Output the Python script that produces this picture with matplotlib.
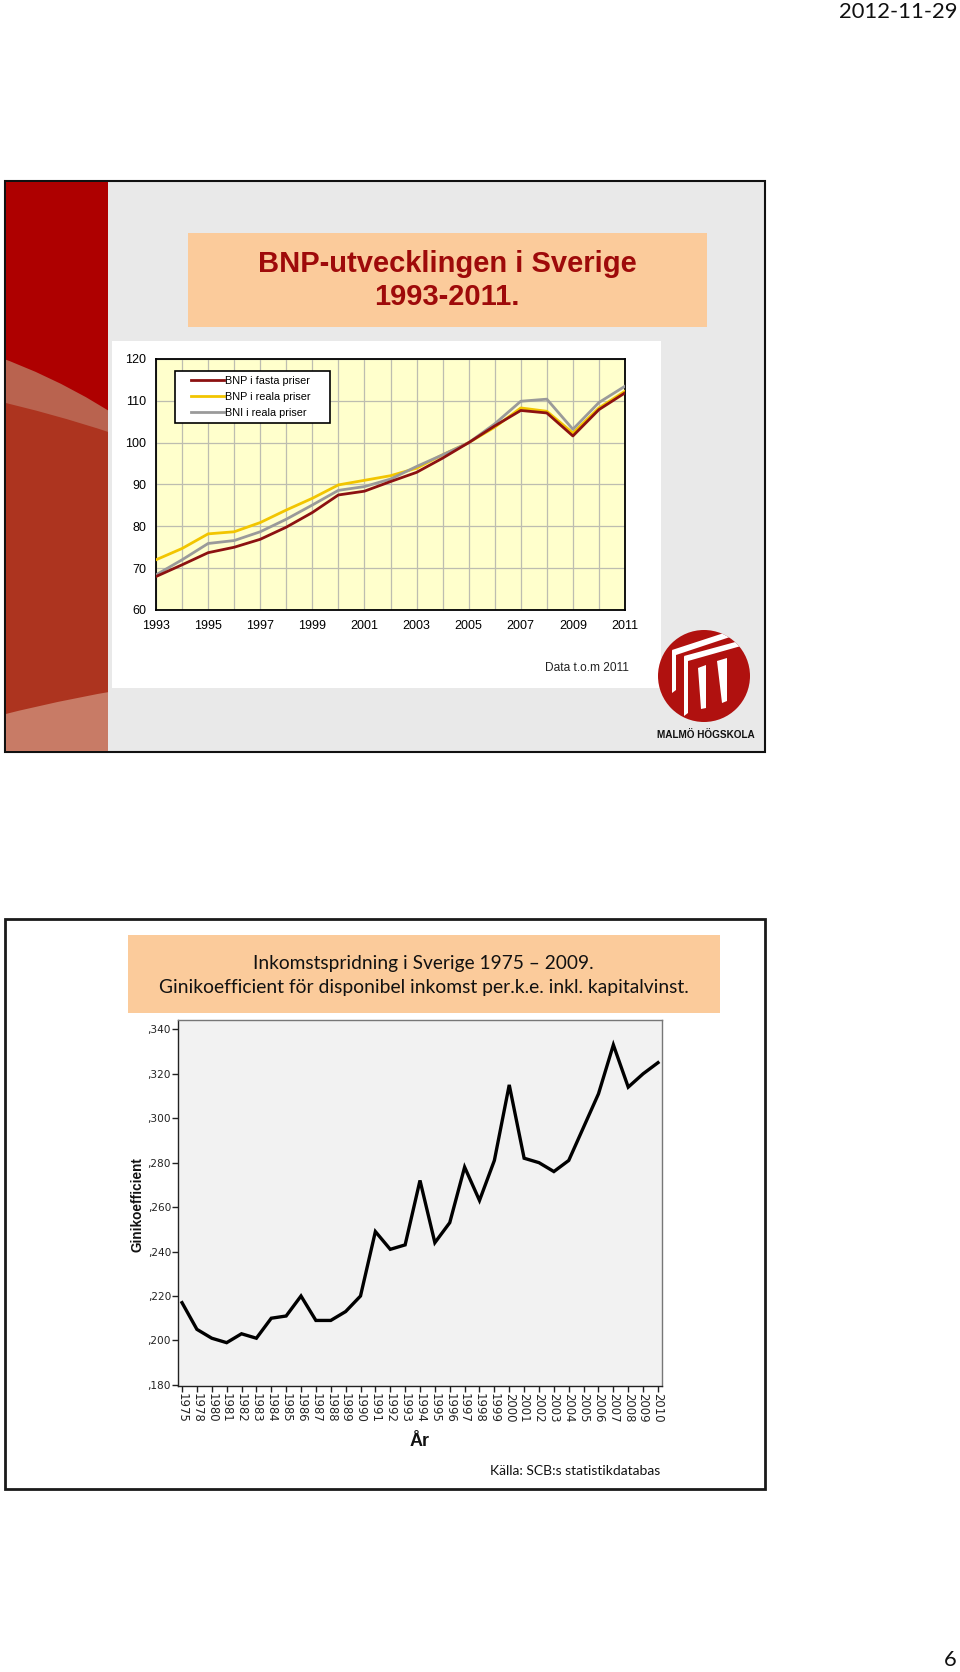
"""Two slides: BNP index 1993-2011 and Gini coefficient 1975-2010."""

import matplotlib
matplotlib.use("Agg")
import matplotlib.pyplot as plt
import matplotlib.ticker as mticker
from matplotlib.lines import Line2D
from matplotlib.legend_handler import HandlerLine2D
from matplotlib.patches import Rectangle, Circle, Polygon

W, H = 960, 1672

# --- data: BNP index (2005 = 100) ---
bnp_years = list(range(1993, 2012))
bnp_fasta = [68.0, 70.8, 73.7, 75.0, 76.9, 79.8, 83.3, 87.5, 88.4, 90.7,
             92.9, 96.3, 100.0, 104.0, 107.7, 107.1, 101.6, 107.9, 111.9]
bnp_reala = [72.0, 74.7, 78.2, 78.7, 80.9, 83.9, 86.7, 89.9, 91.0, 92.1,
             93.9, 97.1, 100.0, 103.7, 108.3, 107.5, 102.3, 108.3, 112.3]
bni_reala = [68.4, 72.0, 75.9, 76.6, 78.7, 81.7, 85.1, 88.6, 89.5, 91.3,
             94.3, 97.1, 100.0, 104.5, 109.9, 110.4, 103.2, 109.6, 113.5]
bnp_labels = ["BNP i fasta priser", "BNP i reala priser", "BNI i reala priser"]
bnp_colors = ["#8C1111", "#F2C500", "#9A9A9A"]
bnp_yticks = [60, 70, 80, 90, 100, 110, 120]

# --- data: Gini coefficient ---
gini_years = ["1975", "1978", "1980", "1981", "1982", "1983", "1984", "1985",
              "1986", "1987", "1988", "1989", "1990", "1991", "1992", "1993",
              "1994", "1995", "1996", "1997", "1998", "1999", "2000", "2001",
              "2002", "2003", "2004", "2005", "2006", "2007", "2008", "2009",
              "2010"]
gini = [0.217, 0.205, 0.201, 0.199, 0.203, 0.201, 0.210, 0.211, 0.220, 0.209,
        0.209, 0.213, 0.220, 0.249, 0.241, 0.243, 0.272, 0.244, 0.253, 0.278,
        0.263, 0.281, 0.315, 0.282, 0.280, 0.276, 0.281, 0.296, 0.311, 0.333,
        0.314, 0.320, 0.325]
gini_yticks = [0.18, 0.20, 0.22, 0.24, 0.26, 0.28, 0.30, 0.32, 0.34]

ARIAL = ["Liberation Sans", "DejaVu Sans"]
CALIBRI = ["Lato", "DejaVu Sans"]
PEACH = "#FBCB9B"


def box(x0, y0, x1, y1):
    """Pixel box (top-left origin) -> figure fraction rect."""
    return [x0 / W, 1 - y1 / H, (x1 - x0) / W, (y1 - y0) / H]


fig = plt.figure(figsize=(W / 100, H / 100), dpi=100)
fig.patch.set_facecolor("white")

bg = fig.add_axes([0, 0, 1, 1])
bg.set_xlim(0, W)
bg.set_ylim(H, 0)
bg.axis("off")

# page header / footer
bg.text(957, 12, "2012-11-29", ha="right", va="center", fontsize=15.8,
        family=CALIBRI, color="#111111")
bg.text(957, 1660, "6", ha="right", va="center", fontsize=15.8,
        family=CALIBRI, color="#111111")

# ---------------- top slide ----------------
bg.add_patch(Rectangle((5, 181), 760, 571, facecolor="#E9E9E9",
                       edgecolor="#111111", lw=1.5))
strip = Rectangle((6, 182), 102, 569, facecolor="#AE0000", edgecolor="none")
bg.add_patch(strip)
for c, r, col in [((-200, 903), 581, "#B9634F"),
                  ((-300, 1683), 1316, "#AD341F"),
                  ((400, 2311), 1645, "#C87B66")]:
    p = Circle(c, r, facecolor=col, edgecolor="none")
    bg.add_patch(p)
    p.set_clip_path(strip)

bg.add_patch(Rectangle((188, 233), 519, 94, facecolor=PEACH, edgecolor="none"))
bg.text(447, 264, "BNP-utvecklingen i Sverige", ha="center", va="center",
        fontsize=21, fontweight="bold", family=ARIAL, color="#9E0A0A")
bg.text(447, 297, "1993-2011.", ha="center", va="center",
        fontsize=21, fontweight="bold", family=ARIAL, color="#9E0A0A")

bg.add_patch(Rectangle((112, 341), 549, 347, facecolor="white", edgecolor="none"))
bg.text(629, 668, "Data t.o.m 2011", ha="right", va="center", fontsize=8.6,
        family=ARIAL, color="#222222")

# logo
logo = Circle((704, 676), 46, facecolor="#B0110F", edgecolor="none")
bg.add_patch(logo)
for pts in [
    [(672, 650), (727, 632), (730, 637), (676, 655)],      # outer roof
    [(672, 650), (676, 652), (676, 690), (672, 693)],      # outer left post
    [(684, 656), (739, 641), (741, 646), (688, 661)],      # inner roof
    [(684, 656), (688, 659), (688, 713), (684, 716)],      # inner left post
    [(698, 668), (706, 665), (706, 708), (701, 709)],      # window 1
    [(717, 661), (727, 658), (727, 701), (722, 703)],      # window 2
]:
    p = Polygon(pts, closed=True, facecolor="white", edgecolor="none")
    bg.add_patch(p)
    p.set_clip_path(logo)
bg.text(706, 735, "MALMÖ HÖGSKOLA", ha="center", va="center", fontsize=7.2,
        fontweight="bold", family=ARIAL, color="#111111")

ax = fig.add_axes(box(156, 359, 625, 610))
ax.set_facecolor("#FFFFCC")
for vals, lab, col in zip([bnp_fasta, bnp_reala, bni_reala], bnp_labels, bnp_colors):
    ax.plot(bnp_years, vals, color=col, lw=2, label=lab, zorder=3)
# dark red line on top of the others
ax.lines[0].set_zorder(4)
ax.set_xlim(1993, 2011)
ax.set_ylim(60, 120)
ax.set_xticks(bnp_years)
ax.set_xticklabels([str(y) if (y - 1993) % 2 == 0 else "" for y in bnp_years])
ax.set_yticks(bnp_yticks)
ax.grid(True, color="#BDBDB0", lw=0.9)
ax.set_axisbelow(True)
ax.tick_params(length=0, labelsize=9, pad=7)
for lbl in ax.get_xticklabels() + ax.get_yticklabels():
    lbl.set_family(ARIAL)
for s in ax.spines.values():
    s.set_color("black")
    s.set_linewidth(1.3)
leg = ax.legend(loc="upper left", bbox_to_anchor=(0.0405, 0.737, 0.33, 0.215),
                mode="expand", borderaxespad=0, fancybox=False,
                edgecolor="black", framealpha=1, facecolor="white",
                prop={"family": ARIAL, "size": 7.8}, handlelength=4.1,
                handletextpad=0.1, labelspacing=0.55, borderpad=0.45,
                handler_map={Line2D: HandlerLine2D(xpad=1.0)})
leg.get_frame().set_linewidth(1.2)

# ---------------- bottom slide ----------------
bg.add_patch(Rectangle((5, 919), 760, 570, facecolor="white",
                       edgecolor="#1A1A1A", lw=2))
bg.add_patch(Rectangle((128, 935), 592, 78, facecolor=PEACH, edgecolor="none"))
bg.text(423, 963, "Inkomstspridning i Sverige 1975 \u2013 2009.", ha="center",
        va="center", fontsize=13.8, family=CALIBRI, color="#111111")
bg.text(424, 988, "Ginikoefficient för disponibel inkomst per.k.e. inkl. kapitalvinst.",
        ha="center", va="center", fontsize=13.9, family=CALIBRI, color="#111111")

ax2 = fig.add_axes(box(178, 1020, 662, 1386))
ax2.set_facecolor("#F2F2F2")
xs = list(range(len(gini)))
ax2.plot(xs, gini, color="black", lw=2.4, solid_joinstyle="miter")
ax2.set_xlim(-0.27, len(gini) - 0.73)
ax2.set_ylim(0.1795, 0.3442)
ax2.set_yticks(gini_yticks)
ax2.yaxis.set_major_formatter(
    mticker.FuncFormatter(lambda v, _: f"{v:.3f}".replace("0.", ",")))
ax2.set_xticks(xs)
ax2.set_xticklabels(gini_years, rotation=-90)
ax2.tick_params(direction="out", length=4, width=1, pad=1, colors="#222222")
ax2.tick_params(axis="x", labelsize=8.4)
ax2.tick_params(axis="y", labelsize=7.6)
for s in ax2.spines.values():
    s.set_color("#777777")
    s.set_linewidth(1)
ax2.spines["left"].set_color("#222222")
ax2.spines["bottom"].set_color("#222222")

bg.text(137, 1205, "Ginikoefficient", rotation=90, ha="center", va="center",
        fontsize=9.8, fontweight="bold", family=ARIAL, color="#111111")
bg.text(420, 1442, "År", ha="center", va="center", fontsize=13,
        fontweight="bold", family=ARIAL, color="#111111")
bg.text(660, 1471, "Källa: SCB:s statistikdatabas", ha="right", va="center",
        fontsize=10, family=CALIBRI, color="#111111")

fig.savefig("out.png", dpi=100)
